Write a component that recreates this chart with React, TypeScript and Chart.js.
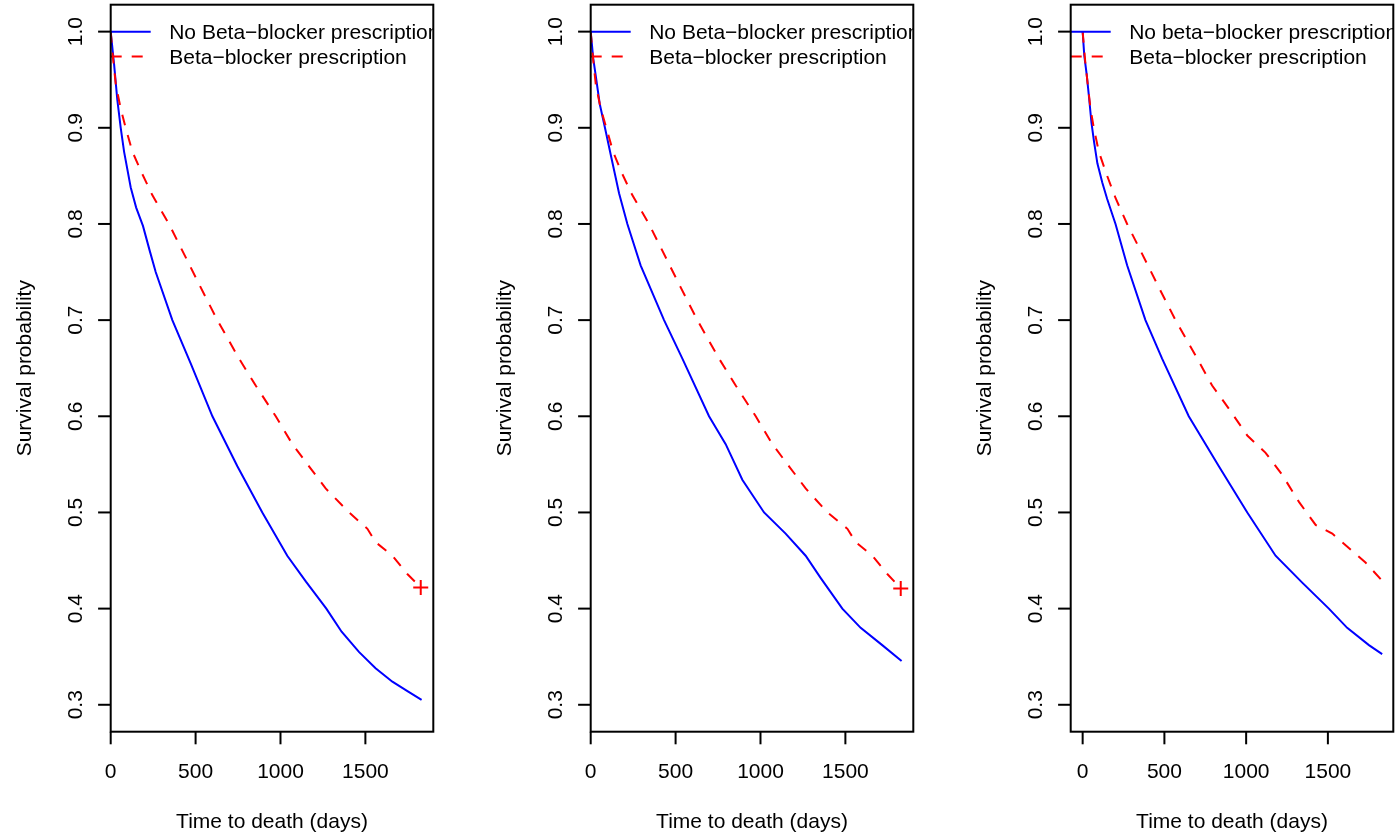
import React, { useEffect, useRef } from "react";
import { Chart, registerables } from "chart.js";

Chart.register(...registerables);

// ---------- shared axis settings ----------
const xTickValues = [0, 500, 1000, 1500];
const yTickValues = [0.3, 0.4, 0.5, 0.6, 0.7, 0.8, 0.9, 1.0];
const yLimits = [0.272, 1.028];
const xLimitsPanel12 = [0, 1900];
const xLimitsPanel3 = [-73.1, 1900.1];

const xTitle = "Time to death (days)";
const yTitle = "Survival probability";

const legendPanel12 = ["No Beta\u2212blocker prescription", "Beta\u2212blocker prescription"];
const legendPanel3 = ["No beta\u2212blocker prescription", "Beta\u2212blocker prescription"];

// ---------- panel 1 ----------
const p1NoBbTime = [0, 20, 39, 59, 79, 118, 150, 190, 230, 265, 363, 471, 599, 746, 893, 1040, 1150, 1270, 1360, 1462, 1560, 1659, 1750, 1831];
const p1NoBbSurv = [1.0, 0.966, 0.929, 0.9, 0.875, 0.838, 0.817, 0.798, 0.772, 0.75, 0.7, 0.655, 0.6, 0.548, 0.5, 0.455, 0.428, 0.4, 0.376, 0.355, 0.338, 0.324, 0.314, 0.305];
const p1BbTime = [0, 12, 30, 59, 88, 128, 186, 245, 343, 451, 530, 628, 756, 854, 972, 1070, 1168, 1266, 1404, 1512, 1561, 1659, 1747, 1826];
const p1BbSurv = [1.0, 0.975, 0.945, 0.92, 0.9, 0.875, 0.852, 0.83, 0.8, 0.762, 0.734, 0.7, 0.66, 0.632, 0.6, 0.571, 0.548, 0.525, 0.5, 0.483, 0.469, 0.455, 0.436, 0.422];
const p1CensorTime = [1826];
const p1CensorSurv = [0.422];

// ---------- panel 2 ----------
const p2NoBbTime = [0, 15, 29, 53, 84, 118, 167, 216, 294, 432, 540, 697, 795, 893, 1021, 1148, 1266, 1354, 1482, 1590, 1717, 1831];
const p2NoBbSurv = [1.0, 0.972, 0.955, 0.925, 0.9, 0.872, 0.832, 0.8, 0.757, 0.7, 0.66, 0.6, 0.571, 0.534, 0.5, 0.478, 0.455, 0.432, 0.4, 0.38, 0.362, 0.3456];
const p2BbTime = [0, 12, 30, 59, 92, 132, 186, 245, 343, 451, 530, 628, 756, 854, 972, 1070, 1168, 1266, 1394, 1512, 1561, 1659, 1747, 1826];
const p2BbSurv = [1.0, 0.975, 0.945, 0.92, 0.9, 0.875, 0.852, 0.83, 0.8, 0.762, 0.734, 0.7, 0.66, 0.632, 0.6, 0.571, 0.548, 0.525, 0.5, 0.483, 0.469, 0.455, 0.436, 0.421];
const p2CensorTime = [1826];
const p2CensorSurv = [0.421];

// ---------- panel 3 ----------
const p3NoBbTime = [0, 10, 25, 40, 54, 70, 90, 120, 150, 201, 272, 384, 486, 649, 833, 1007, 1180, 1343, 1506, 1618, 1751, 1832];
const p3NoBbSurv = [1.0, 0.975, 0.955, 0.93, 0.905, 0.885, 0.863, 0.843, 0.826, 0.8, 0.757, 0.7, 0.66, 0.6, 0.548, 0.5, 0.455, 0.427, 0.4, 0.38, 0.362, 0.3526];
const p3BbTime = [0, 17, 48, 68, 99, 150, 201, 272, 384, 466, 568, 701, 792, 894, 1007, 1119, 1221, 1323, 1425, 1527, 1649, 1730, 1832];
const p3BbSurv = [1.0, 0.9665, 0.92, 0.9, 0.875, 0.85, 0.827, 0.8, 0.762, 0.734, 0.7, 0.66, 0.632, 0.608, 0.58, 0.562, 0.539, 0.511, 0.487, 0.478, 0.46, 0.448, 0.429];
const p3CensorTime: number[] = [];
const p3CensorSurv: number[] = [];

const BLUE = "#0000FF";
const RED = "#FF0000";
const FONT = '21px "Liberation Sans", Arial, Helvetica, sans-serif';
const PANEL_W = 480;
const PANEL_H = 838;

function toPoints(t: number[], s: number[]) {
  return t.map((x, i) => ({ x, y: s[i] }));
}

function makePlugin(legendLabels: string[]) {
  return {
    id: "rBaseAxes",
    afterDatasetsDraw(chart: any) {
      const { ctx, chartArea: a, scales } = chart;
      const xs = scales.x;
      const ys = scales.y;
      ctx.save();
      // legend (clipped to plot region)
      ctx.save();
      ctx.beginPath();
      ctx.rect(a.left, a.top, a.right - a.left, a.bottom - a.top);
      ctx.clip();
      const rowY = [a.top + 27, a.top + 51.8];
      const colors = [BLUE, RED];
      const dashes = [[], [11, 10]];
      for (let i = 0; i < legendLabels.length; i++) {
        ctx.beginPath();
        ctx.strokeStyle = colors[i];
        ctx.lineWidth = 2;
        ctx.setLineDash(dashes[i]);
        ctx.moveTo(a.left, rowY[i]);
        ctx.lineTo(a.left + 40, rowY[i]);
        ctx.stroke();
        ctx.setLineDash([]);
        ctx.fillStyle = "#000";
        ctx.font = FONT;
        ctx.textAlign = "left";
        ctx.textBaseline = "alphabetic";
        ctx.fillText(legendLabels[i], a.left + 58.5, rowY[i] + 7.3);
      }
      ctx.restore();

      // box
      ctx.strokeStyle = "#000";
      ctx.lineWidth = 2;
      ctx.setLineDash([]);
      ctx.strokeRect(a.left, a.top, a.right - a.left, a.bottom - a.top);

      ctx.fillStyle = "#000";
      ctx.font = FONT;
      // y ticks
      for (const t of ys.ticks) {
        const py = ys.getPixelForValue(t.value);
        ctx.beginPath();
        ctx.moveTo(a.left, py);
        ctx.lineTo(a.left - 12.6, py);
        ctx.stroke();
        ctx.save();
        ctx.translate(a.left - 29.2, py);
        ctx.rotate(-Math.PI / 2);
        ctx.textAlign = "center";
        ctx.textBaseline = "alphabetic";
        ctx.fillText(Number(t.value).toFixed(1), 0, 0);
        ctx.restore();
      }
      // x ticks
      for (const t of xs.ticks) {
        const px = xs.getPixelForValue(t.value);
        ctx.beginPath();
        ctx.moveTo(px, a.bottom);
        ctx.lineTo(px, a.bottom + 12.6);
        ctx.stroke();
        ctx.textAlign = "center";
        ctx.textBaseline = "alphabetic";
        ctx.fillText(String(Math.round(t.value)), px, a.bottom + 46.5);
      }
      // titles
      ctx.textAlign = "center";
      ctx.textBaseline = "alphabetic";
      ctx.fillText(xTitle, (a.left + a.right) / 2, a.bottom + 96.3);
      ctx.save();
      ctx.translate(a.left - 79.7, (a.top + a.bottom) / 2);
      ctx.rotate(-Math.PI / 2);
      ctx.fillText(yTitle, 0, 0);
      ctx.restore();
      ctx.restore();
    },
  };
}

type PanelProps = {
  left: number;
  xLimits: number[];
  noTime: number[];
  noSurv: number[];
  bbTime: number[];
  bbSurv: number[];
  censorTime: number[];
  censorSurv: number[];
  legendLabels: string[];
};

function Panel(props: PanelProps) {
  const ref = useRef<HTMLCanvasElement | null>(null);
  useEffect(() => {
    if (!ref.current) return;
    const chart = new Chart(ref.current, {
      type: "line",
      data: {
        datasets: [
          {
            label: "censor",
            data: toPoints(props.censorTime, props.censorSurv),
            showLine: false,
            pointStyle: "cross",
            pointRadius: 7.5,
            borderColor: RED,
            backgroundColor: RED,
            borderWidth: 2,
          } as any,
          {
            label: props.legendLabels[1],
            data: toPoints(props.bbTime, props.bbSurv),
            borderColor: RED,
            borderWidth: 2,
            borderDash: [11, 10],
            pointRadius: 0,
            tension: 0,
            fill: false,
          },
          {
            label: props.legendLabels[0],
            data: toPoints(props.noTime, props.noSurv),
            borderColor: BLUE,
            borderWidth: 2,
            pointRadius: 0,
            tension: 0,
            fill: false,
          },
        ],
      },
      options: {
        animation: false,
        responsive: false,
        devicePixelRatio: 1,
        events: [],
        layout: { autoPadding: false, padding: { top: 4.7, right: PANEL_W - 433.3, left: 0, bottom: 0 } },
        plugins: { legend: { display: false }, tooltip: { enabled: false }, title: { display: false } },
        scales: {
          x: {
            type: "linear",
            min: props.xLimits[0],
            max: props.xLimits[1],
            ticks: { display: false },
            grid: { display: false },
            border: { display: false },
            afterBuildTicks: (s: any) => {
              s.ticks = xTickValues.map((v) => ({ value: v }));
            },
            afterFit: (s: any) => {
              s.height = PANEL_H - 731.7;
            },
          },
          y: {
            type: "linear",
            min: yLimits[0],
            max: yLimits[1],
            ticks: { display: false },
            grid: { display: false },
            border: { display: false },
            afterBuildTicks: (s: any) => {
              s.ticks = yTickValues.map((v) => ({ value: v }));
            },
            afterFit: (s: any) => {
              s.width = 110.7;
            },
          },
        },
      } as any,
      plugins: [makePlugin(props.legendLabels)],
    });
    return () => chart.destroy();
  }, []);
  return (
    <div style={{ position: "absolute", left: props.left, top: 0, width: PANEL_W, height: PANEL_H }}>
      <canvas ref={ref} width={PANEL_W} height={PANEL_H} style={{ width: PANEL_W, height: PANEL_H, display: "block" }} />
    </div>
  );
}

export default function App() {
  return (
    <div
      style={{
        position: "fixed",
        left: 0,
        top: 0,
        width: 1400,
        height: 838,
        overflow: "hidden",
        background: "#fff",
      }}
    >
      <Panel
        left={0}
        xLimits={xLimitsPanel12}
        noTime={p1NoBbTime}
        noSurv={p1NoBbSurv}
        bbTime={p1BbTime}
        bbSurv={p1BbSurv}
        censorTime={p1CensorTime}
        censorSurv={p1CensorSurv}
        legendLabels={legendPanel12}
      />
      <Panel
        left={480}
        xLimits={xLimitsPanel12}
        noTime={p2NoBbTime}
        noSurv={p2NoBbSurv}
        bbTime={p2BbTime}
        bbSurv={p2BbSurv}
        censorTime={p2CensorTime}
        censorSurv={p2CensorSurv}
        legendLabels={legendPanel12}
      />
      <Panel
        left={960}
        xLimits={xLimitsPanel3}
        noTime={p3NoBbTime}
        noSurv={p3NoBbSurv}
        bbTime={p3BbTime}
        bbSurv={p3BbSurv}
        censorTime={p3CensorTime}
        censorSurv={p3CensorSurv}
        legendLabels={legendPanel3}
      />
    </div>
  );
}
